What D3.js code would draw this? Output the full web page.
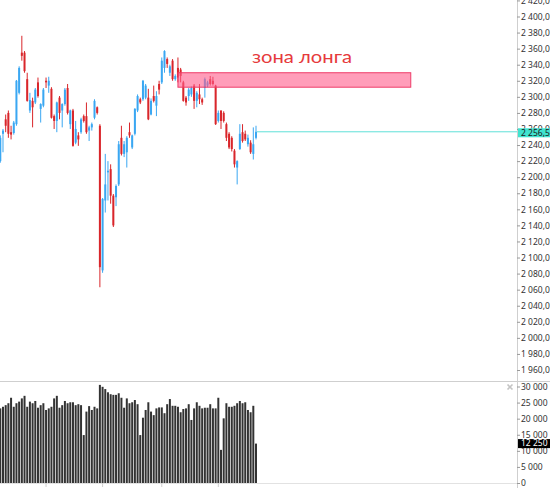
<!DOCTYPE html>
<html>
<head>
<meta charset="utf-8">
<script src="https://cdn.jsdelivr.net/npm/d3@7"></script>
<style>
  html, body { margin: 0; padding: 0; background: #fff; overflow: hidden; }
  svg { display: block; font-family: "Noto Sans", sans-serif; }
</style>
</head>
<body>
<svg id="chart" width="550" height="488"></svg>
<script>
// daily candles, oldest first
const opens  = [2220,2254,2272,2280,2256,2255,2266,2305,2355,2355,2322,2283,2295,2293,2318,2285,2289,2320,2314,2310,
                2276,2270,2299,2283,2291,2311,2266,2283,2243,2252,2256,2276,2276,2258,2262,2274,2287,2264,2084,2171,
                2206,2210,2177,2175,2191,2249,2229,2231,2256,2237,2254,2283,2297,2297,2299,2299,2278,2301,2289,2316,
                2318,2336,2347,2330,2345,2322,2336,2334,2318,2299,2301,2303,2314,2295,2303,2297,2311,2314,2322,2320,
                2314,2270,2283,2280,2266,2254,2249,2233,2212,2235,2256,2254,2241,2243,2229,2249];
const highs  = [2252,2260,2278,2283,2264,2270,2321,2338,2376,2357,2330,2305,2299,2311,2324,2292,2311,2324,2325,2312,
                2278,2294,2301,2292,2311,2316,2284,2285,2270,2256,2274,2278,2293,2264,2268,2297,2288,2266,2174,2229,
                2220,2216,2179,2191,2245,2264,2245,2251,2268,2253,2286,2303,2299,2321,2316,2310,2298,2314,2307,2320,
                2349,2358,2349,2340,2347,2328,2349,2336,2320,2301,2311,2313,2316,2307,2316,2299,2324,2320,2326,2325,
                2315,2283,2283,2282,2268,2256,2251,2235,2221,2266,2266,2258,2253,2246,2262,2264];
const lows   = [2218,2231,2256,2249,2247,2253,2264,2303,2345,2330,2294,2280,2262,2291,2299,2268,2287,2311,2305,2273,
                2260,2256,2272,2262,2289,2278,2260,2238,2241,2239,2254,2268,2254,2245,2258,2272,2278,2063,2081,2156,
                2171,2167,2138,2164,2189,2227,2225,2212,2249,2235,2252,2281,2291,2295,2297,2271,2277,2293,2276,2303,
                2316,2330,2336,2326,2320,2320,2318,2318,2294,2289,2295,2300,2285,2287,2291,2290,2299,2312,2314,2314,
                2265,2268,2260,2268,2245,2235,2232,2212,2191,2234,2243,2245,2238,2229,2222,2247];
const closes = [2249,2258,2264,2254,2253,2268,2320,2336,2351,2332,2295,2296,2287,2309,2301,2291,2309,2318,2320,2274,
                2270,2293,2280,2291,2309,2280,2283,2239,2260,2247,2272,2270,2256,2262,2266,2295,2280,2088,2173,2191,
                2208,2177,2140,2189,2241,2229,2241,2249,2252,2252,2285,2301,2293,2320,2314,2272,2295,2295,2301,2309,
                2345,2357,2341,2338,2322,2326,2324,2326,2295,2293,2309,2311,2295,2305,2297,2293,2322,2318,2316,2316,
                2266,2280,2270,2270,2249,2237,2235,2216,2220,2254,2245,2247,2249,2231,2241,2256.5];
const volumes = [23200,23700,24200,24800,26500,23700,24800,25300,26300,27100,23700,25300,24800,25500,23400,24200,
                 24800,22700,23200,23700,26300,27100,23400,24200,25500,24800,25100,25100,24200,24500,24200,14900,
                 22200,23900,22700,23700,23200,30500,29900,29200,28200,27600,27400,27400,27900,26500,23400,26300,
                 24800,25100,25800,24500,14900,20300,22700,25100,22200,21100,23200,23500,23500,21700,24500,26100,
                 24000,24000,23700,22000,23000,23200,24500,19600,23200,25100,24000,23200,23400,23400,24500,23200,
                 23200,26500,10300,20100,24800,23700,23700,24000,24800,25500,24800,25100,22700,22000,24000,12250];

const priceTicks = d3.range(1960, 2421, 20);
const volumeTicks = [0, 5000, 10000, 15000, 20000, 25000, 30000];
const timeTicks = [17, 38, 60, 81];

// long zone (candle index span, price span)
const zoneIndex = [66, 152.5];
const zonePrice = [2312, 2330];
const zoneLabel = "зона лонга";

const lastPrice = 2256.5;
const lastVolume = 12250;

const upColor = "#3aa7f2";
const downColor = "#d9262b";
const axisX = 517;
const panelSplit = 381;
const labelSize = 8.5;

const locale = d3.formatLocale({ decimal: ",", thousands: " ", grouping: [3], currency: ["", ""] });
const fmtPrice = locale.format(",.1f");
const fmtVol = locale.format(",d");

const svg = d3.select("#chart");

const x = d3.scaleLinear().domain([0, opens.length - 1]).range([0.3, 256]);
const yPrice = d3.scaleLinear().domain([1960, 2400]).range([370, 16.5]);
const yVol = d3.scaleLinear().domain([0, 30000]).range([483, 386.5]);

svg.append("clipPath").attr("id", "priceClip")
  .append("rect").attr("x", 0).attr("y", 0).attr("width", axisX).attr("height", panelSplit);

// candles
const idx = d3.range(opens.length);
const candles = svg.append("g").attr("clip-path", "url(#priceClip)");
candles.selectAll(".wick").data(idx).enter().append("line")
  .attr("x1", i => x(i)).attr("x2", i => x(i))
  .attr("y1", i => yPrice(highs[i])).attr("y2", i => yPrice(lows[i]))
  .attr("stroke", i => closes[i] >= opens[i] ? upColor : downColor)
  .attr("stroke-width", 1);
candles.selectAll(".body").data(idx).enter().append("rect")
  .attr("x", i => x(i) - 1)
  .attr("width", 2)
  .attr("y", i => yPrice(Math.max(opens[i], closes[i])))
  .attr("height", i => Math.max(1, Math.abs(yPrice(opens[i]) - yPrice(closes[i]))))
  .attr("fill", i => closes[i] >= opens[i] ? upColor : downColor);

// long zone
const zx0 = x(zoneIndex[0]), zx1 = x(zoneIndex[1]);
const zy0 = yPrice(zonePrice[1]), zy1 = yPrice(zonePrice[0]);
svg.append("rect")
  .attr("x", zx0).attr("y", zy0)
  .attr("width", zx1 - zx0).attr("height", zy1 - zy0)
  .attr("fill", "#ff5c8a").attr("fill-opacity", 0.6)
  .attr("stroke", "#ee3c68").attr("stroke-width", 1);
svg.append("text")
  .attr("x", zx0 + 74).attr("y", zy0 - 10)
  .attr("font-family", "Lato, sans-serif")
  .attr("font-size", 17)
  .attr("fill", "#e63a3c")
  .attr("textLength", 100).attr("lengthAdjust", "spacingAndGlyphs")
  .text(zoneLabel);

// last price line
svg.append("line")
  .attr("x1", x(opens.length - 1) + 1).attr("x2", axisX)
  .attr("y1", yPrice(lastPrice)).attr("y2", yPrice(lastPrice))
  .attr("stroke", "#5fe0d8").attr("stroke-width", 1);

// volume bars
svg.append("g").selectAll("rect").data(idx).enter().append("rect")
  .attr("x", i => x(i) - 1)
  .attr("width", 2)
  .attr("y", i => yVol(volumes[i]))
  .attr("height", i => yVol(0) - yVol(volumes[i]))
  .attr("fill", "#333");

// frame lines
svg.append("line").attr("x1", 0).attr("x2", 550).attr("y1", panelSplit + 0.5).attr("y2", panelSplit + 0.5)
  .attr("stroke", "#cfcfcf");
svg.append("line").attr("x1", axisX + 0.5).attr("x2", axisX + 0.5).attr("y1", 0).attr("y2", 488)
  .attr("stroke", "#cfcfcf");
svg.append("line").attr("x1", 0).attr("x2", axisX).attr("y1", 483.5).attr("y2", 483.5)
  .attr("stroke", "#e2e2e2");
svg.append("g").selectAll("line").data(timeTicks).enter().append("line")
  .attr("x1", d => x(d)).attr("x2", d => x(d)).attr("y1", 483).attr("y2", 487)
  .attr("stroke", "#cfcfcf");

// axes
const priceAxis = svg.append("g")
  .attr("transform", `translate(${axisX},0)`)
  .call(d3.axisRight(yPrice).tickValues(priceTicks).tickSize(3).tickPadding(1).tickFormat(fmtPrice));
const volAxis = svg.append("g")
  .attr("transform", `translate(${axisX},0)`)
  .call(d3.axisRight(yVol).tickValues(volumeTicks).tickSize(3).tickPadding(1).tickFormat(fmtVol));
[priceAxis, volAxis].forEach(a => {
  a.select(".domain").remove();
  a.selectAll(".tick line").attr("stroke", "#999");
  a.selectAll(".tick text").attr("fill", "#333").attr("font-size", labelSize).attr("font-family", "Noto Sans, sans-serif");
});

// current value tags
function tag(y, bg, fg, label) {
  const g = svg.append("g");
  g.append("rect").attr("x", axisX + 1).attr("y", y - 4.5).attr("width", 33).attr("height", 9).attr("fill", bg);
  g.append("text").attr("x", axisX + 4).attr("y", y).attr("dy", "0.34em")
    .attr("font-size", labelSize).attr("fill", fg).text(label);
}
tag(yPrice(lastPrice) + 1, "#40e3cf", "#1a1a1a", fmtPrice(lastPrice));
tag(yVol(lastVolume), "#000", "#fff", fmtVol(lastVolume));

// close icon of the volume pane
const cx = 510, cy = 387;
svg.append("path")
  .attr("d", `M${cx - 2.5},${cy - 2.5}L${cx + 2.5},${cy + 2.5}M${cx + 2.5},${cy - 2.5}L${cx - 2.5},${cy + 2.5}`)
  .attr("stroke", "#c4c4c4").attr("stroke-width", 1.6);
</script>
</body>
</html>
